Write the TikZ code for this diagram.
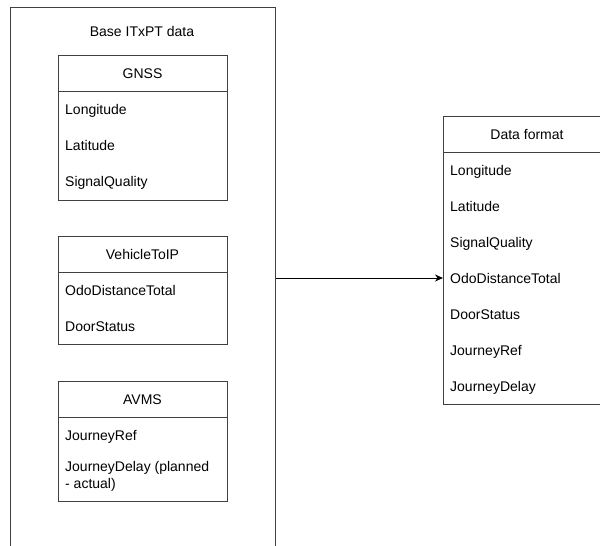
\documentclass[tikz,border=0pt]{standalone}
\usepackage{fontspec}
\setmainfont{Liberation Sans}
\usetikzlibrary{arrows.meta}
\begin{document}
\begin{tikzpicture}[x=1pt,y=-1pt,
  every node/.style={font=\fontsize{14}{17}\selectfont, text=black},
  boxline/.style={draw=black!75, line width=1pt},
  frame/.style={boxline, rectangle, anchor=north west, inner sep=0pt},
  item/.style={anchor=base west, inner sep=0pt, yshift=-5pt},
  title/.style={anchor=base, inner sep=0pt, yshift=-5pt}]
\useasboundingbox (0,0) rectangle (600,546);
\clip (0,0) rectangle (600,546);
% outer container
\node[frame, minimum width=265pt, minimum height=560pt] (outer) at (10,7) {};
\node[title] (basetitle) at (142,31) {Base ITxPT data};
% GNSS
\node[frame, minimum width=169pt, minimum height=145pt] (gnss) at (58,55) {};
\draw[boxline] (58,91) -- (227,91);
\node[title] (gnsst) at (142.5,73) {GNSS};
\node[item] (g1) at (65,109) {Longitude};
\node[item] (g2) at (65,145) {Latitude};
\node[item] (g3) at (65,181) {SignalQuality};
% VehicleToIP
\node[frame, minimum width=169pt, minimum height=108pt] (veh) at (58,236) {};
\draw[boxline] (58,272) -- (227,272);
\node[title] (veht) at (142.5,254) {VehicleToIP};
\node[item] (v1) at (65,290) {OdoDistanceTotal};
\node[item] (v2) at (65,326) {DoorStatus};
% AVMS
\node[frame, minimum width=169pt, minimum height=120pt] (avms) at (58,381) {};
\draw[boxline] (58,417) -- (227,417);
\node[title] (avmst) at (142.5,399) {AVMS};
\node[item] (a1) at (65,435) {JourneyRef};
\node[item] (a2) at (65,466) {JourneyDelay (planned};
\node[item] (a3) at (65,483) {- actual)};
% Data format
\node[frame, minimum width=169pt, minimum height=288pt] (df) at (443,116) {};
\draw[boxline] (443,152) -- (612,152);
\node[title] (dft) at (527,134) {Data format};
\node[item] (d1) at (450,170) {Longitude};
\node[item] (d2) at (450,206) {Latitude};
\node[item] (d3) at (450,242) {SignalQuality};
\node[item] (d4) at (450,278) {OdoDistanceTotal};
\node[item] (d5) at (450,314) {DoorStatus};
\node[item] (d6) at (450,350) {JourneyRef};
\node[item] (d7) at (450,386) {JourneyDelay};
% connector
\coordinate (arrowy) at (450,278);
\coordinate (src) at (outer.east |- arrowy);
\draw[line width=1pt, -{Stealth[length=8pt,width=7pt]}] (src) -- (df.west |- arrowy);
\end{tikzpicture}
\end{document}
